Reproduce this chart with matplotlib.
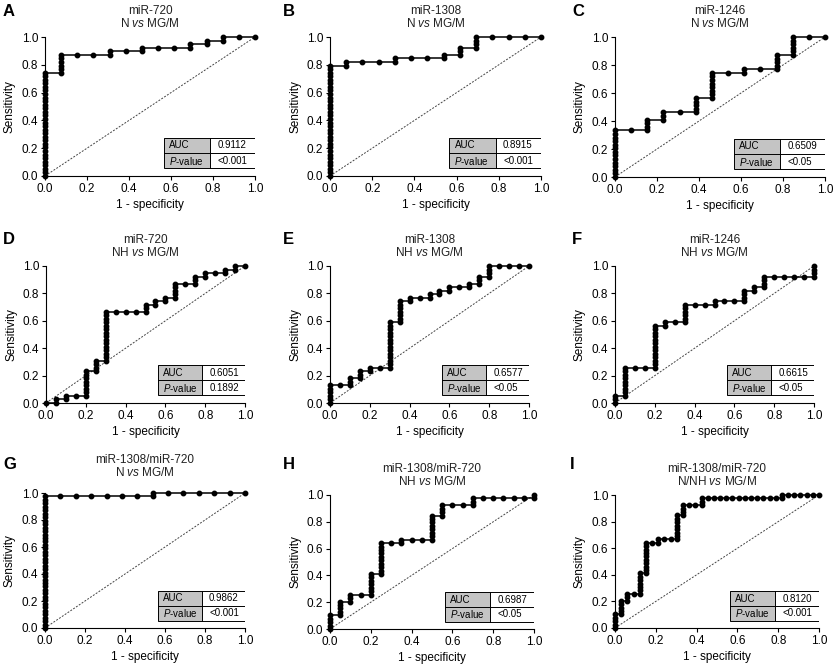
import numpy as np
import matplotlib
matplotlib.use("Agg")
import matplotlib.pyplot as plt
from matplotlib.patches import Rectangle

plt.rcParams['font.family'] = ['Liberation Sans', 'DejaVu Sans']
plt.rcParams['mathtext.fontset'] = 'custom'
plt.rcParams['mathtext.rm'] = 'Liberation Sans'
plt.rcParams['mathtext.it'] = 'Liberation Sans:italic'

# ---- data ----
n_pos = 39
letters = ["A", "B", "C", "D", "E", "F", "G", "H", "I"]
mirnas = ["miR-720", "miR-1308", "miR-1246",
          "miR-720", "miR-1308", "miR-1246",
          "miR-1308/miR-720", "miR-1308/miR-720", "miR-1308/miR-720"]
controls = ["N", "N", "N", "NH", "NH", "NH", "N", "NH", "N/NH"]
n_neg = [13, 13, 13, 20, 20, 20, 13, 20, 33]
auc_vals = ["0.9112", "0.8915", "0.6509", "0.6051", "0.6577", "0.6615",
            "0.9862", "0.6987", "0.8120"]
p_vals = ["<0.001", "<0.001", "<0.05", "0.1892", "<0.05", "<0.05",
          "<0.001", "<0.05", "<0.001"]

# true positives (out of 39) reached at each false-positive count 0..n_neg
tp_A = [29, 34, 34, 34, 35, 35, 36, 36, 36, 37, 38, 39, 39, 39]
tp_B = [31, 32, 32, 32, 33, 33, 33, 34, 36, 39, 39, 39, 39, 39]
tp_C = [13, 13, 16, 18, 18, 22, 29, 29, 30, 30, 34, 39, 39, 39]
tp_D = [0, 1, 2, 2, 9, 12, 26, 26, 26, 26, 28, 29, 30, 34, 34, 36, 37, 37, 38, 39, 39]
tp_E = [5, 5, 7, 9, 10, 10, 23, 29, 30, 30, 31, 32, 33, 33, 34, 36, 39, 39, 39, 39, 39]
tp_F = [2, 10, 10, 10, 22, 23, 23, 28, 28, 28, 29, 29, 29, 32, 33, 36, 36, 36, 36, 36, 39]
tp_G = [38, 38, 38, 38, 38, 38, 38, 39, 39, 39, 39, 39, 39, 39]
tp_H = [4, 8, 10, 10, 16, 25, 25, 26, 26, 26, 33, 36, 36, 36, 38, 38, 38, 38, 38, 38, 39]
tp_I = [4, 8, 10, 10, 16, 25, 25, 26, 26, 26, 33, 36, 36, 36,
        38, 38, 38, 38, 38, 38, 38, 38, 38, 38, 38, 38, 38,
        39, 39, 39, 39, 39, 39, 39]
tp_counts = [tp_A, tp_B, tp_C, tp_D, tp_E, tp_F, tp_G, tp_H, tp_I]

# axes boxes in pixels: left, right, top, bottom
boxes = [(45, 255, 37, 176), (330, 541, 37, 176), (615, 825, 37, 177),
         (46, 245, 266, 403), (330, 529, 266, 403), (615, 814, 266, 403),
         (45, 245, 493, 628), (330, 534, 495, 629), (615, 819, 495, 628)]
letter_pos = [(3, 4), (283, 4), (572, 4),
              (3, 232), (283, 232), (572, 232),
              (3, 457), (283, 457), (570, 457)]
# extra lift of the two-line title (px)
title_lift = [0, 0, 0, 0, 0, 0, 7, 0, 0]

W, H = 836, 667
fig = plt.figure(figsize=(W / 100, H / 100), dpi=100)


def roc_points(counts, n):
    xs, ys = [], []
    prev = 0
    for k, c in enumerate(counts):
        for j in range(prev, c + 1):
            xs.append(k / n)
            ys.append(j / n_pos)
        prev = c
    return np.array(xs), np.array(ys)


for i in range(9):
    l, r, t, b = boxes[i]
    hpx = b - t
    ax = fig.add_axes([l / W, 1 - b / H, (r - l) / W, hpx / H])
    x, y = roc_points(tp_counts[i], n_neg[i])

    ax.plot([0, 1], [0, 1], color='#444444', lw=0.7, ls=(0, (2, 1.5)), zorder=1)
    ax.plot(x, y, color='black', lw=1.1, marker='o', ms=3.2, clip_on=False, zorder=3)

    ax.set_xlim(0, 1)
    ax.set_ylim(0, 1)
    ax.set_xticks(np.arange(0, 1.01, 0.2))
    ax.set_yticks(np.arange(0, 1.01, 0.2))
    ax.xaxis.set_major_formatter(matplotlib.ticker.FormatStrFormatter('%.1f'))
    ax.yaxis.set_major_formatter(matplotlib.ticker.FormatStrFormatter('%.1f'))
    ax.tick_params(labelsize=8.5, length=3, width=0.8, pad=2)
    for s in ['top', 'right']:
        ax.spines[s].set_visible(False)
    for s in ['left', 'bottom']:
        ax.spines[s].set_linewidth(0.8)
    ax.set_xlabel('1 - specificity', fontsize=8.5, labelpad=3)
    ax.set_ylabel('Sensitivity', fontsize=8.5, labelpad=4)

    # titles
    lift = title_lift[i]
    ax.text(0.5, 1 + (20 + lift) / hpx, mirnas[i], transform=ax.transAxes,
            ha='center', va='bottom', fontsize=8.5, color='#222222')
    ax.text(0.5, 1 + (7 + lift) / hpx, controls[i] + r' $\mathit{vs}$ MG/M',
            transform=ax.transAxes, ha='center', va='bottom', fontsize=8.5,
            color='#222222')

    # AUC / P-value box
    x0, xm, x1 = 0.565, 0.785, 1.0
    y0, ym, y1 = 0.055, 0.165, 0.275
    ax.add_patch(Rectangle((x0, y0), xm - x0, y1 - y0, transform=ax.transAxes,
                           facecolor='#c4c4c4', edgecolor='none', zorder=4))
    ax.add_patch(Rectangle((xm, y0), x1 - xm, y1 - y0, transform=ax.transAxes,
                           facecolor='white', edgecolor='none', zorder=4))
    ax.add_patch(Rectangle((x0, y0), x1 - x0, y1 - y0, transform=ax.transAxes,
                           facecolor='none', edgecolor='black', lw=0.7, zorder=5))
    ax.plot([x0, x1], [ym, ym], transform=ax.transAxes, color='black', lw=0.7, zorder=5)
    ax.plot([xm, xm], [y0, y1], transform=ax.transAxes, color='black', lw=0.7, zorder=5)
    ax.text(x0 + 0.025, (ym + y1) / 2, 'AUC', transform=ax.transAxes, fontsize=7,
            va='center', ha='left', zorder=6)
    ax.text(x0 + 0.025, (y0 + ym) / 2, r'$\mathit{P}$-value', transform=ax.transAxes,
            fontsize=7, va='center', ha='left', zorder=6)
    ax.text(xm + 0.035, (ym + y1) / 2, auc_vals[i], transform=ax.transAxes, fontsize=7,
            va='center', ha='left', zorder=6)
    ax.text(xm + 0.035, (y0 + ym) / 2, p_vals[i], transform=ax.transAxes, fontsize=7,
            va='center', ha='left', zorder=6)

    lx, ly = letter_pos[i]
    fig.text(lx / W, 1 - ly / H, letters[i], fontsize=12, fontweight='bold',
             ha='left', va='top')

fig.savefig('out.png', dpi=100)
